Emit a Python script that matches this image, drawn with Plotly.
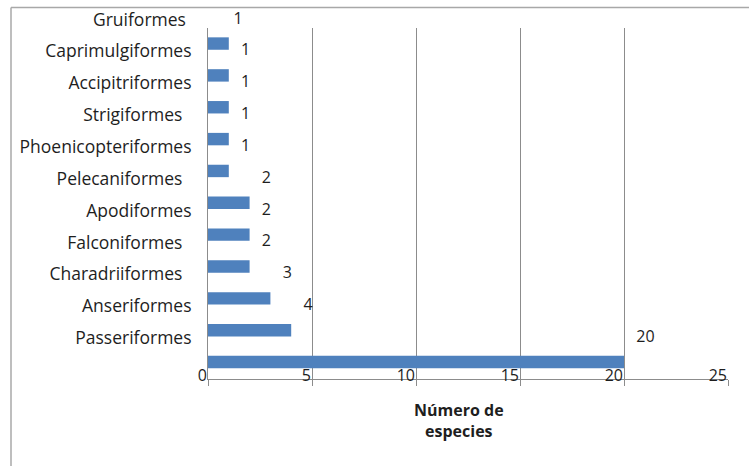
import plotly.graph_objects as go

# ---- data (top to bottom as shown) ----
orders = ["Gruiformes\u00a0\u00a0", "Caprimulgiformes", "Accipitriformes", "Strigiformes\u00a0\u00a0",
          "Phoenicopteriformes", "Pelecaniformes\u00a0\u00a0", "Apodiformes", "Falconiformes\u00a0\u00a0",
          "Charadriiformes\u00a0\u00a0", "Anseriformes", "Passeriformes"]
species = [1, 1, 1, 1, 1, 2, 2, 2, 3, 4, 20]
x_ticks = [0, 5, 10, 15, 20, 25]

# ---- layout geometry (pixels) ----
W, H = 749, 466
L, R = 208, 728          # plot area x
T_MAIN, B = 28, 379      # main plot area y
T_ALL = 8                # top of label strip
ROW = 31.85              # row spacing in px
BAR_SHIFT = 0.755        # bars sit below their label (in rows)

n = len(orders)
pos = [n - 1 - j for j in range(n)]            # label positions (Passeriformes = 0)
bar_pos = [p - BAR_SHIFT for p in pos]

y_lo = -(B - 338) / ROW
y_hi = (338 - T_MAIN) / ROW
y2_hi = (338 - T_ALL) / ROW

total_h = B - T_ALL
split = (B - T_MAIN) / total_h

font_family = "'Open Sans', Lato, sans-serif"
txt_col = "#1e1e1e"
grid_col = "#8c8c8c"
FS = 16
FS_CAT = 17.5

fig = go.Figure()
fig.add_trace(go.Bar(
    x=species, y=bar_pos, orientation="h", width=0.39,
    marker=dict(color="#4f81bd", line=dict(width=0)),
    hoverinfo="skip", showlegend=False, xaxis="x", yaxis="y"))

# value labels (aligned with category labels)
lab_marker = dict(size=18, color="rgba(0,0,0,0)")
fig.add_trace(go.Scatter(
    x=species[1:], y=pos[1:], mode="markers+text", text=[str(v) for v in species[1:]],
    marker=lab_marker,
    textposition="middle right", textfont=dict(size=FS, color=txt_col, family=font_family),
    cliponaxis=False, showlegend=False, hoverinfo="skip", xaxis="x", yaxis="y"))
fig.add_trace(go.Scatter(
    x=species[:1], y=pos[:1], mode="markers+text", text=[str(v) for v in species[:1]],
    marker=dict(size=6, color="rgba(0,0,0,0)"),
    textposition="middle right", textfont=dict(size=FS, color=txt_col, family=font_family),
    cliponaxis=False, showlegend=False, hoverinfo="skip", xaxis="x2", yaxis="y2"))

fig.update_layout(
    width=W, height=H,
    margin=dict(l=L, r=W - R, t=T_ALL, b=H - B, pad=0),
    paper_bgcolor="white", plot_bgcolor="white",
    font=dict(family=font_family, size=FS, color=txt_col),
    xaxis=dict(domain=[0, 1], range=[0, 25], tickvals=x_ticks,
               showgrid=True, gridcolor=grid_col, gridwidth=1,
               showline=True, linecolor=grid_col, linewidth=1,
               ticks="outside", ticklen=6, tickcolor=grid_col,
               ticklabelposition="outside left", ticklabelstandoff=-18,
               zeroline=False, anchor="y",
               tickfont=dict(size=FS, color=txt_col)),
    yaxis=dict(domain=[0, split], range=[y_lo, y_hi],
               tickvals=pos[1:], ticktext=orders[1:],
               showgrid=False, zeroline=False,
               showline=True, linecolor=grid_col, linewidth=1,
               ticks="", ticklabelstandoff=12, anchor="x",
               tickfont=dict(size=FS_CAT, color=txt_col)),
    xaxis2=dict(domain=[0, 1], matches="x", anchor="y2", visible=False,
                showgrid=False, showline=False),
    yaxis2=dict(domain=[split, 1], range=[y_hi, y2_hi],
                tickvals=pos[:1], ticktext=orders[:1],
                showgrid=False, zeroline=False, showline=False,
                ticks="", ticklabelstandoff=12, anchor="x2",
                tickfont=dict(size=FS_CAT, color=txt_col)),
)

# axis title
fig.add_annotation(
    text="<b>Número de<br>especies</b>", xref="paper", yref="paper",
    x=(459 - L) / (R - L), y=(B - 420) / (B - T_MAIN) * split,
    xanchor="center", yanchor="middle", showarrow=False,
    font=dict(size=FS, color=txt_col, family=font_family))

# outer chart frame (cropped at right and bottom)
def px_x(px):
    return (px - L) / (R - L)

def px_y(py):
    return (B - py) / total_h

frame_col = "#a8a8a8"
fig.add_shape(type="line", xref="paper", yref="paper",
              x0=px_x(11), x1=px_x(752), y0=px_y(7.5), y1=px_y(7.5),
              line=dict(color=frame_col, width=1.5))
fig.add_shape(type="line", xref="paper", yref="paper",
              x0=px_x(11), x1=px_x(11), y0=px_y(7.5), y1=px_y(470),
              line=dict(color=frame_col, width=1.5))

fig.write_html("out.html")
